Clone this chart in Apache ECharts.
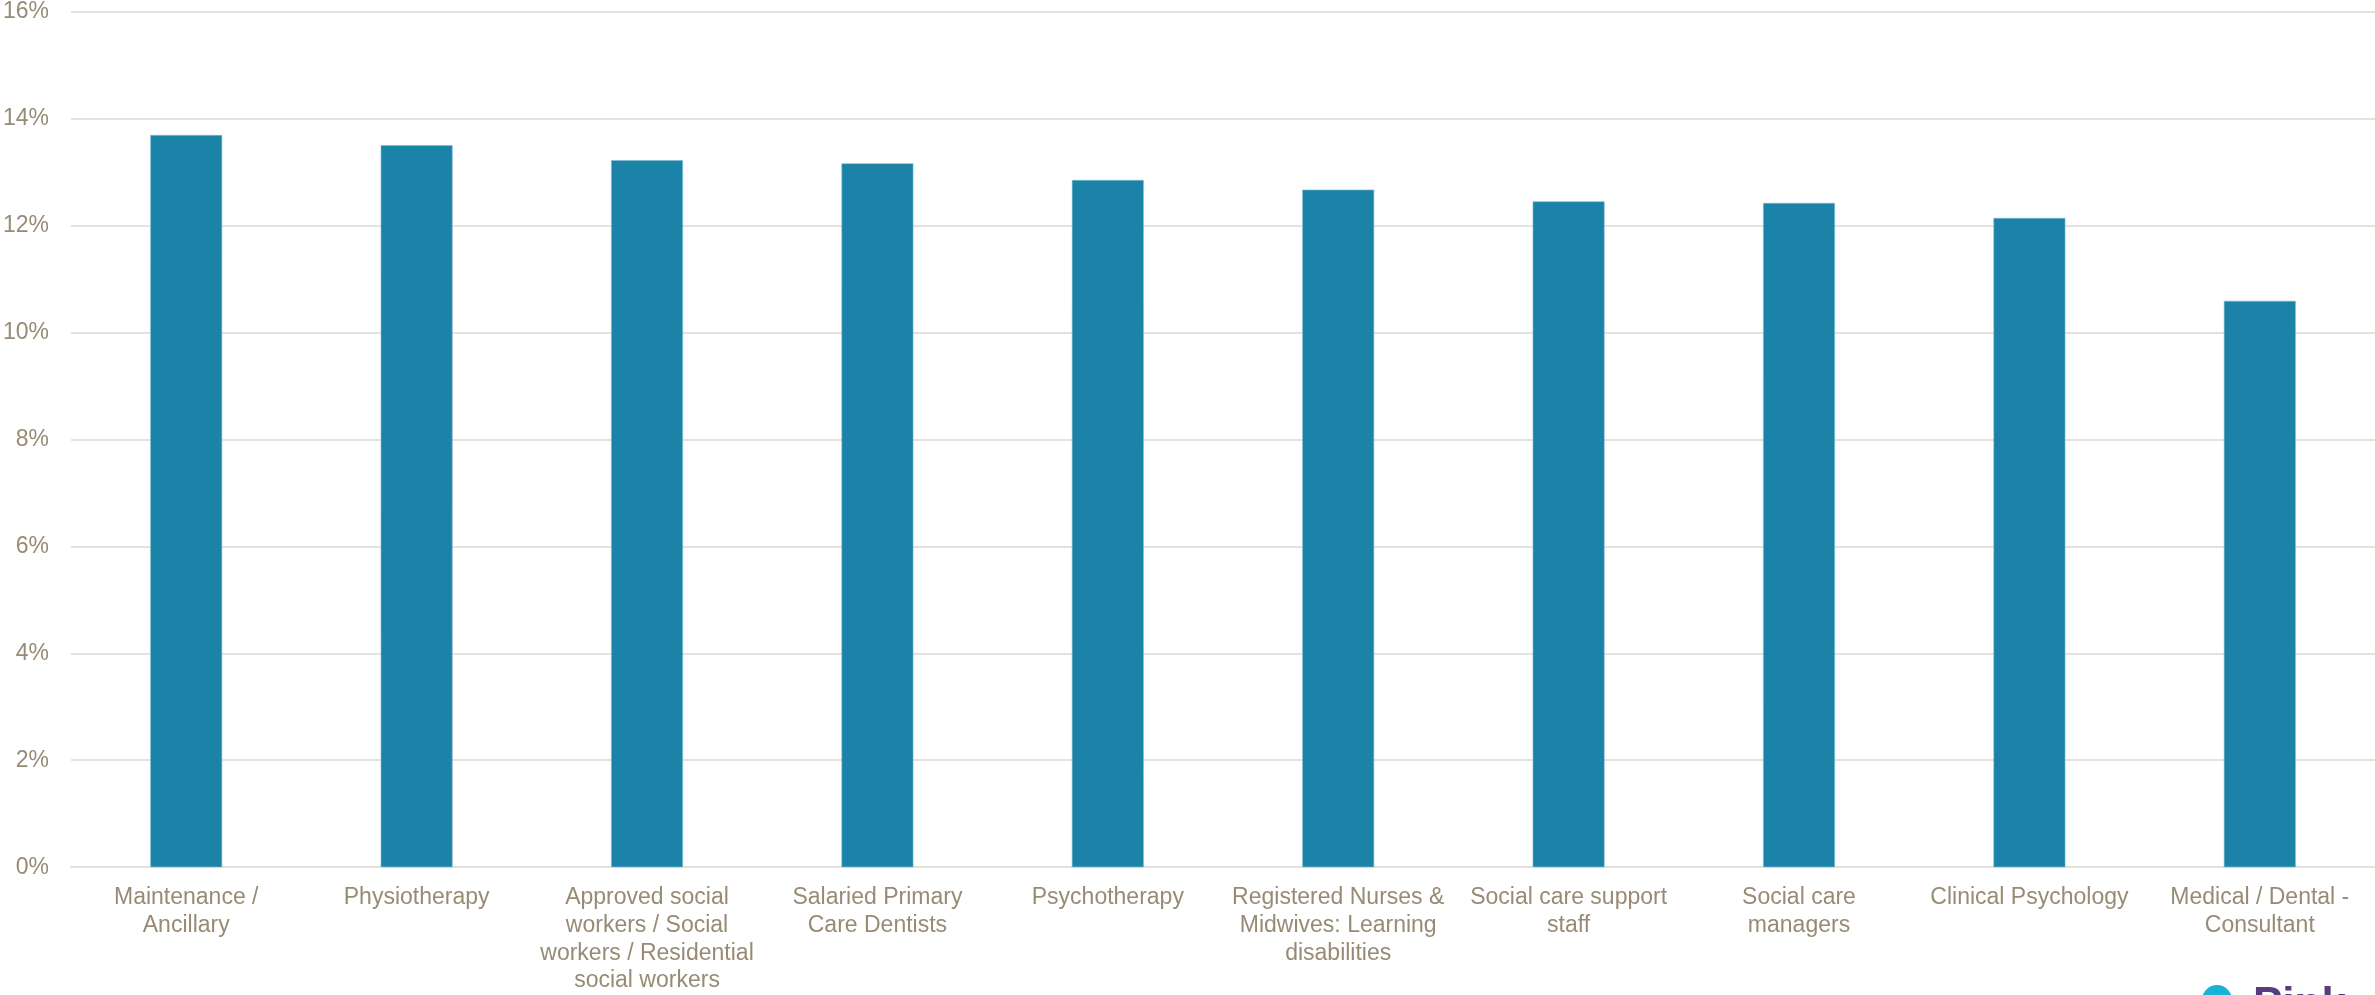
<!DOCTYPE html>
<html>
<head>
<meta charset="utf-8">
<script src="https://cdn.jsdelivr.net/npm/echarts@6/dist/echarts.min.js"></script>
<style>
  html, body { margin: 0; padding: 0; background: #ffffff; }
  #chart { width: 2375px; height: 995px; }
</style>
</head>
<body>
<div id="chart"></div>
<script>
// Staff groups (line breaks mark how each label wraps under its bar)
const categories = [
  'Maintenance /\nAncillary',
  'Physiotherapy',
  'Approved social\nworkers / Social\nworkers / Residential\nsocial workers',
  'Salaried Primary\nCare Dentists',
  'Psychotherapy',
  'Registered Nurses &\nMidwives: Learning\ndisabilities',
  'Social care support\nstaff',
  'Social care\nmanagers',
  'Clinical Psychology',
  'Medical / Dental -\nConsultant'
];

// Percentage value per staff group
const values = [13.69, 13.50, 13.22, 13.16, 12.85, 12.67, 12.45, 12.42, 12.14, 10.59];

// Value axis range, in percent
const yMin = 0;
const yMax = 16;
const yStep = 2;

const textColor = '#978B74';
const gridColor = '#E5E1DB';
const barColor = '#1A83A7';
const fontFamily = '"Liberation Sans", Arial, Helvetica, sans-serif';

const chart = echarts.init(document.getElementById('chart'), null, { renderer: 'canvas' });

chart.setOption({
  animation: false,
  backgroundColor: '#ffffff',
  grid: { left: 70, right: 0, top: 11, bottom: 125, containLabel: false },
  xAxis: {
    type: 'category',
    data: categories,
    axisTick: { show: false },
    axisLine: { show: true, lineStyle: { color: gridColor, width: 2 } },
    axisLabel: {
      interval: 0,
      color: textColor,
      fontSize: 23,
      fontFamily: fontFamily,
      lineHeight: 27.7,
      margin: 17,
      align: 'center'
    }
  },
  yAxis: {
    type: 'value',
    min: yMin,
    max: yMax,
    interval: yStep,
    axisLine: { show: false },
    axisTick: { show: false },
    splitLine: { lineStyle: { color: gridColor, width: 2 } },
    axisLabel: {
      formatter: '{value}%',
      color: textColor,
      fontSize: 23,
      fontFamily: fontFamily,
      margin: 22
    }
  },
  series: [{
    type: 'bar',
    data: values,
    barWidth: '31.2%',
    itemStyle: { color: barColor, borderColor: '#7FBBD2', borderWidth: 0.6 }
  }],
  graphic: [
    {
      type: 'circle',
      shape: { cx: 2217, cy: 1000, r: 15 },
      style: { fill: '#1BB1D4' }
    },
    {
      type: 'text',
      left: 2253,
      top: 984,
      style: {
        text: 'Pink',
        fill: '#5A3B7C',
        font: 'bold 44px "Liberation Sans", Arial, sans-serif'
      }
    }
  ]
});
</script>
</body>
</html>
